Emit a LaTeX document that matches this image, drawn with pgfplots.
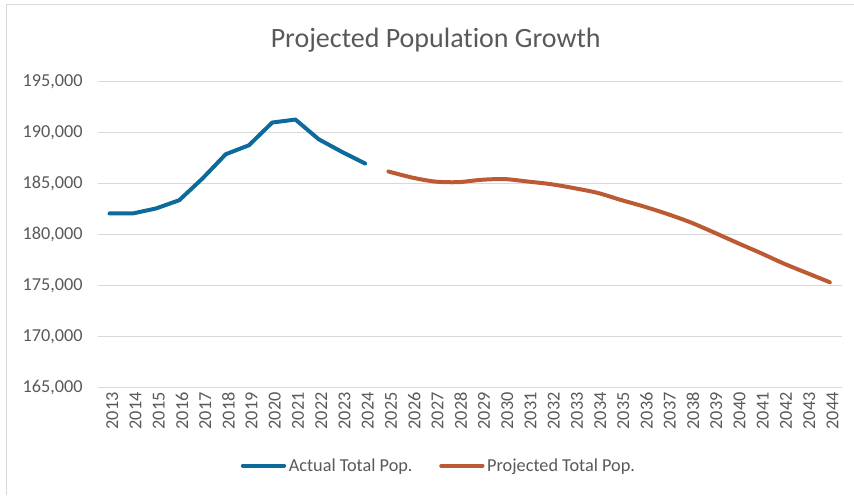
\documentclass[border=0pt]{standalone}
\usepackage{fontspec}
\setmainfont{Carlito}[Ligatures=NoCommon]
\usepackage{pgfplots}
\pgfplotsset{compat=1.18}
\definecolor{actual}{HTML}{0E6A9C}
\definecolor{proj}{HTML}{BC5A34}
\definecolor{txt}{HTML}{595959}
\definecolor{grid}{HTML}{D9D9D9}

\begin{document}
\begin{tikzpicture}
% canvas 854 x 495 px at 0.75pt per px
\path (0pt,0pt) rectangle (640.5pt,371.25pt);
\draw[grid, line width=0.75pt] (5.25pt,0pt) -- (5.25pt,367.5pt) -- (640.5pt,367.5pt);
\node[font=\fontsize{21}{25}\selectfont, text=txt] at (327pt,341.25pt) {Projected Population Growth};
\begin{axis}[
  at={(73.5pt,80.25pt)}, anchor=south west,
  scale only axis, width=558pt, height=229.5pt,
  xmin=2012.5, xmax=2044.5, ymin=165000, ymax=195000,
  xtick={2013,...,2044}, ytick={165000,170000,...,195000},
  major tick length=0pt,
  axis line style={draw=none},
  ymajorgrids, grid style={color=grid, line width=0.75pt},
  tick label style={font=\fontsize{13.7}{16}\selectfont, text=txt},
  /pgf/number format/fixed,
  /pgf/number format/assume math mode=true,
  yticklabel style={/pgf/number format/1000 sep={,}, xshift=-8pt},
  xticklabel style={rotate=90, anchor=east, /pgf/number format/1000 sep={}, yshift=-2pt},
  scaled y ticks=false,
  legend style={at={(0.459,-0.255)}, anchor=center, draw=none, fill=none,
    font=\fontsize{13.7}{16}\selectfont, text=txt, legend columns=2,
    /tikz/every even column/.append style={column sep=18pt}},
  legend image code/.code={\draw[#1, line width=3pt] (0pt,0pt) -- (31pt,0pt);},
]
\addplot[actual, line width=3pt, line join=round, line cap=round] coordinates {
 (2013,182100) (2014,182100) (2015,182590) (2016,183400) (2017,185530)
 (2018,187910) (2019,188790) (2020,191020) (2021,191310) (2022,189380)
 (2023,188140) (2024,187000)};
\addlegendentry{Actual Total Pop.}
\addplot[proj, line width=3pt, line cap=round, smooth, tension=0.5] coordinates {
 (2025,186220) (2026,185630) (2027,185230) (2028,185170) (2029,185400)
 (2030,185470) (2031,185230) (2032,184970) (2033,184580) (2034,184120)
 (2035,183430) (2036,182780) (2037,182050) (2038,181230) (2039,180250)
 (2040,179230) (2041,178240) (2042,177200) (2043,176270) (2044,175350)};
\addlegendentry{Projected Total Pop.}
\end{axis}
\end{tikzpicture}
\end{document}
